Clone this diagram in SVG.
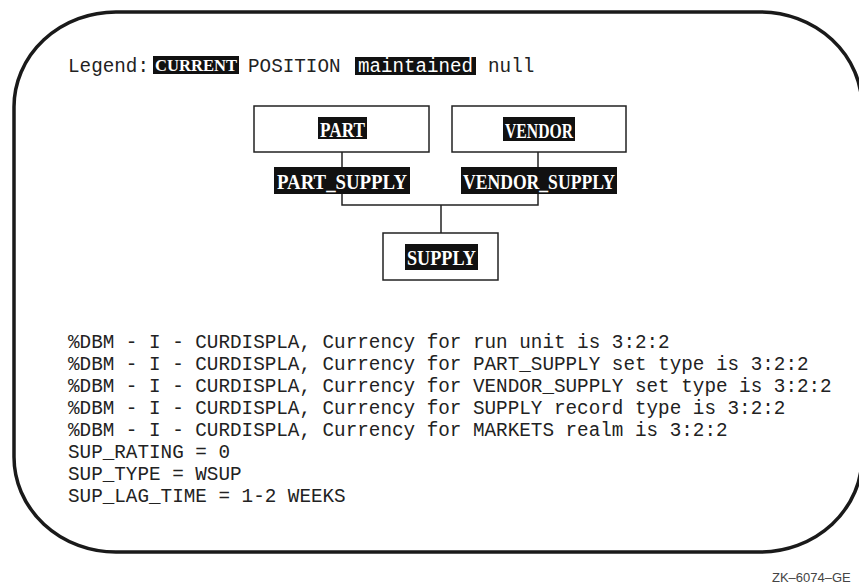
<svg xmlns="http://www.w3.org/2000/svg" width="859" height="587" viewBox="0 0 859 587">
<style>
.frame{fill:none;stroke:#1a1a1a;stroke-width:3.5}
.box{fill:#fff;stroke:#222;stroke-width:1.5}
.hl{fill:#111}
.lbl{font-family:"Liberation Serif",serif;font-weight:bold;font-size:22px;fill:#fff}
.lgd{font-family:"Liberation Serif",serif;font-weight:bold;font-size:17px;fill:#fff}
.mono{font-family:"Liberation Mono","DejaVu Sans Mono",monospace;font-size:19.3px;fill:#222}
.wmono{font-family:"Liberation Mono","DejaVu Sans Mono",monospace;font-size:19.3px;fill:#fff}
.conn{fill:none;stroke:#222;stroke-width:1.5}
.cap{font-family:"Liberation Sans",Arial,sans-serif;font-size:13px;fill:#444}
</style>
<rect class="frame" x="14" y="12" width="848" height="540" rx="102" ry="95"/>
<g id="legend">
<text class="mono" x="68" y="72">Legend:</text>
<rect class="hl" x="153" y="56" width="86" height="18"/>
<text class="lgd" x="155" y="71" textLength="82" lengthAdjust="spacingAndGlyphs">CURRENT</text>
<text class="mono" x="248" y="72">POSITION</text>
<rect class="hl" x="355" y="57" width="121" height="18"/>
<text class="wmono" x="358" y="72" textLength="115" lengthAdjust="spacingAndGlyphs">maintained</text>
<text class="mono" x="488" y="72">null</text>
</g>
<g id="connectors">
<line class="conn" x1="342" y1="152" x2="342" y2="167"/>
<line class="conn" x1="538" y1="152" x2="538" y2="167"/>
<polyline class="conn" points="342,194 342,205 538,205 538,194"/>
<line class="conn" x1="441" y1="205" x2="441" y2="233"/>
</g>
<g id="part">
<rect class="box" x="254" y="106" width="175" height="46"/>
<rect class="hl" x="318" y="117" width="49" height="22"/>
<text class="lbl" x="320" y="137" textLength="45" lengthAdjust="spacingAndGlyphs">PART</text>
</g>
<g id="vendor">
<rect class="box" x="452" y="106" width="174" height="46"/>
<rect class="hl" x="503" y="117" width="72" height="24"/>
<text class="lbl" x="505" y="138" textLength="68" lengthAdjust="spacingAndGlyphs">VENDOR</text>
</g>
<g id="part_supply">
<rect class="hl" x="274" y="167" width="136" height="27"/>
<text class="lbl" x="277" y="189" textLength="130" lengthAdjust="spacingAndGlyphs">PART_SUPPLY</text>
</g>
<g id="vendor_supply">
<rect class="hl" x="461" y="167" width="156" height="27"/>
<text class="lbl" x="463" y="189" textLength="152" lengthAdjust="spacingAndGlyphs">VENDOR_SUPPLY</text>
</g>
<g id="supply">
<rect class="box" x="383" y="233" width="115" height="47"/>
<rect class="hl" x="405" y="244" width="73" height="26"/>
<text class="lbl" x="407" y="265" textLength="69" lengthAdjust="spacingAndGlyphs">SUPPLY</text>
</g>
<g id="output">
<text class="mono" x="68" y="348">%DBM - I - CURDISPLA, Currency for run unit is 3:2:2</text>
<text class="mono" x="68" y="370">%DBM - I - CURDISPLA, Currency for PART_SUPPLY set type is 3:2:2</text>
<text class="mono" x="68" y="392">%DBM - I - CURDISPLA, Currency for VENDOR_SUPPLY set type is 3:2:2</text>
<text class="mono" x="68" y="414">%DBM - I - CURDISPLA, Currency for SUPPLY record type is 3:2:2</text>
<text class="mono" x="68" y="436">%DBM - I - CURDISPLA, Currency for MARKETS realm is 3:2:2</text>
<text class="mono" x="68" y="458">SUP_RATING = 0</text>
<text class="mono" x="68" y="480">SUP_TYPE = WSUP</text>
<text class="mono" x="68" y="502">SUP_LAG_TIME = 1-2 WEEKS</text>
</g>
<text class="cap" x="772" y="582">ZK–6074–GE</text>
</svg>
